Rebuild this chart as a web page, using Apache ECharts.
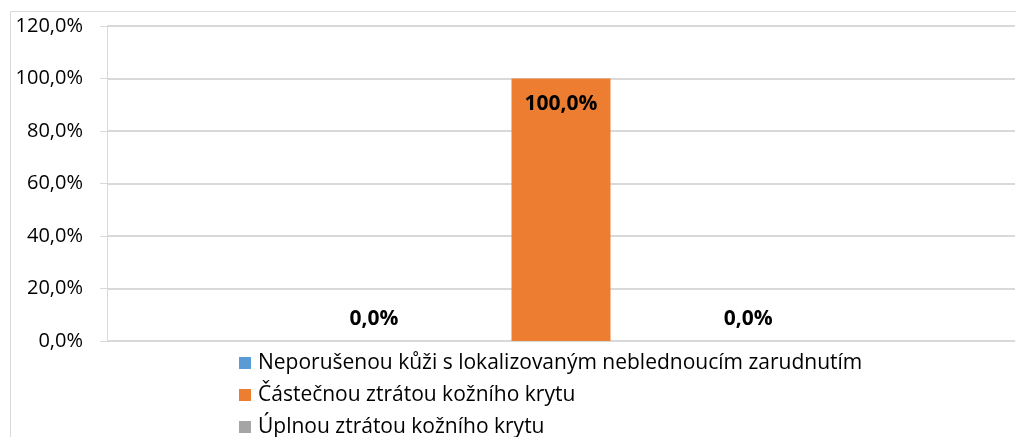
<!DOCTYPE html>
<html>
<head>
<meta charset="utf-8">
<script src="https://cdn.jsdelivr.net/npm/echarts@6/dist/echarts.min.js"></script>
<style>
  html, body { margin: 0; padding: 0; background: #fff; }
  #chart { width: 1016px; height: 437px; }
</style>
</head>
<body>
<div id="chart"></div>
<script>
// Pressure-ulcer stage shares (percent of respondents)
const categories = [''];
const seriesNames = [
  'Neporušenou kůži s lokalizovaným neblednoucím zarudnutím',
  'Částečnou ztrátou kožního krytu',
  'Úplnou ztrátou kožního krytu'
];
const seriesValues = [
  [0.0],
  [100.0],
  [0.0]
];
const seriesColors = ['#5B9BD5', '#ED7D31', '#A5A5A5'];
const yTicks = { min: 0, max: 120, interval: 20 };

const FONT = '"Open Sans", Lato, sans-serif';
const fmtPct = v => v.toFixed(1).replace('.', ',') + '%';

const chart = echarts.init(document.getElementById('chart'), null, { renderer: 'canvas' });

const series = seriesNames.map((name, i) => ({
  name,
  type: 'bar',
  data: seriesValues[i],
  itemStyle: { color: seriesColors[i] },
  barWidth: 99,
  barGap: '89%',
  label: {
    show: true,
    position: seriesValues[i][0] > 10 ? 'insideTop' : 'top',
    distance: seriesValues[i][0] > 10 ? 15 : 11,
    formatter: p => fmtPct(p.value),
    fontFamily: FONT,
    fontWeight: 'bold',
    fontSize: 21,
    color: '#000'
  }
}));

chart.setOption({
  animation: false,
  backgroundColor: '#fff',
  graphic: [
    {
      type: 'polyline',
      shape: { points: [[10.5, 437], [10.5, 11.5], [1016, 11.5]] },
      style: { stroke: '#D9D9D9', lineWidth: 1, fill: null },
      silent: true
    }
  ],
  grid: { left: 107, right: 1, top: 26, bottom: 96, containLabel: false },
  legend: {
    orient: 'vertical',
    left: 239,
    top: 351,
    height: 150,
    padding: 0,
    itemWidth: 12,
    itemHeight: 12,
    itemGap: 8,
    icon: 'rect',
    textStyle: { fontFamily: FONT, fontSize: 21, lineHeight: 24, color: '#000', padding: [0, 0, 0, 2] },
    data: seriesNames
  },
  xAxis: {
    type: 'category',
    data: categories,
    axisLine: { show: true, lineStyle: { color: '#D9D9D9', width: 1 } },
    axisTick: { show: false },
    axisLabel: { show: false }
  },
  yAxis: {
    type: 'value',
    min: yTicks.min,
    max: yTicks.max,
    interval: yTicks.interval,
    axisLine: { show: true, lineStyle: { color: '#D9D9D9', width: 1 } },
    axisTick: { show: true, inside: false, length: 7, lineStyle: { color: '#D9D9D9' } },
    axisLabel: {
      margin: 24,
      formatter: v => fmtPct(v),
      fontFamily: FONT,
      fontSize: 20,
      color: '#000'
    },
    splitLine: { show: true, lineStyle: { color: '#D9D9D9', width: 2 } }
  },
  series
});
</script>
</body>
</html>
